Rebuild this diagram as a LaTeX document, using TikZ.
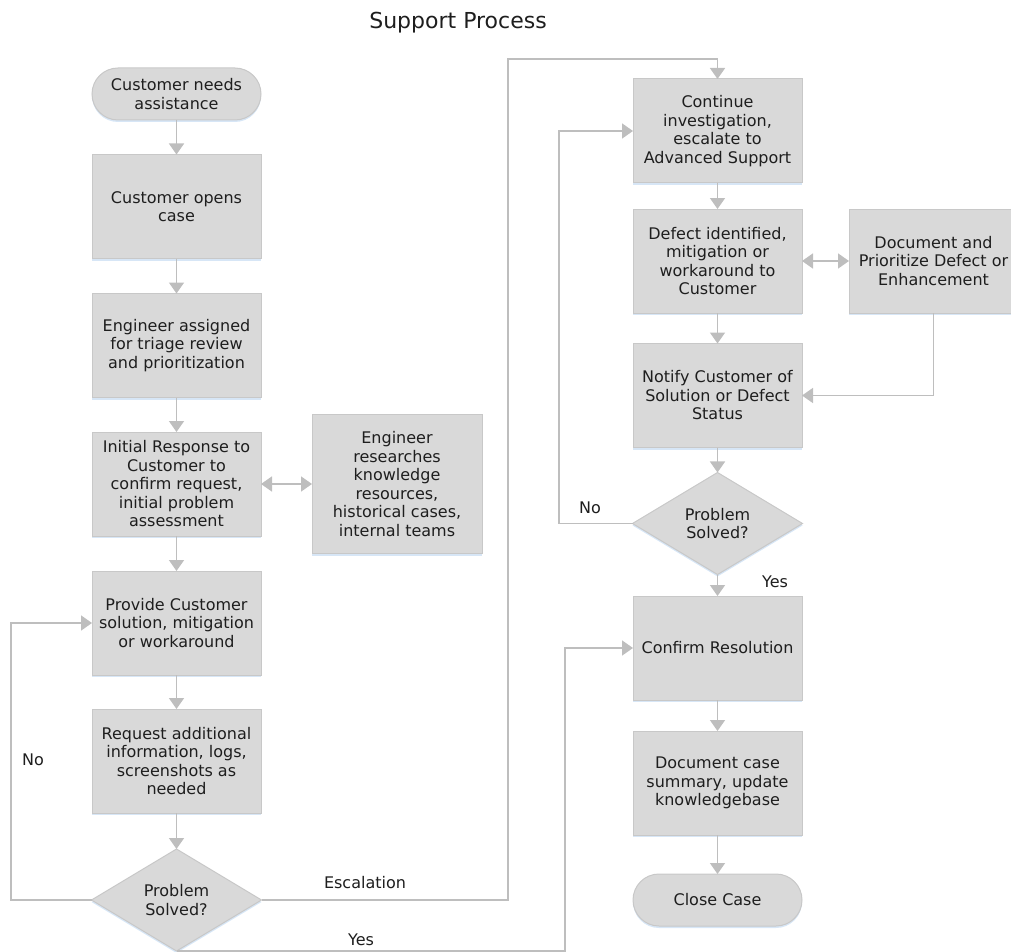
\documentclass[tikz,border=0pt]{standalone}
\usepackage{fontspec}
\setmainfont{DejaVu Sans}
\usetikzlibrary{shapes.geometric,arrows.meta,shadows}
\definecolor{boxfill}{RGB}{217,217,217}
\definecolor{boxline}{RGB}{200,200,200}
\definecolor{linkgray}{RGB}{190,190,190}
\definecolor{glow}{RGB}{205,224,244}
\definecolor{textgray}{RGB}{30,30,30}
\newcommand{\boxfont}{\fontsize{16}{18.5}\selectfont}
\newcommand{\titlefont}{\fontsize{22}{26}\selectfont}

\begin{document}
\begin{tikzpicture}
  [x=1pt,y=1pt,>={Triangle[width=15pt,length=11pt]},
   glowshadow/.style={drop shadow={shadow xshift=0pt,shadow yshift=-2pt,fill=glow,opacity=0.8}},
   process/.style={rectangle,draw=boxline,fill=boxfill,line width=1pt,align=center,
                   outer sep=0,minimum width=169pt,minimum height=104pt,inner sep=2pt,
                   font=\boxfont,text=textgray,glowshadow},
   terminal/.style={process,rounded corners=26pt,minimum height=52pt},
   decision/.style={diamond,draw=boxline,fill=boxfill,line width=1pt,align=center,
                    outer sep=0,inner sep=0,aspect=1.7,minimum width=170pt,minimum height=102pt,
                    font=\boxfont,text=textgray,glowshadow},
   arrowline/.style={draw=linkgray,line width=1.6pt},
   flowtext/.style={font=\boxfont,text=textgray,inner sep=0}]
  \useasboundingbox (0,0) rectangle (1011,-952);
  \node[font=\titlefont,text=textgray] (title) at (458,-23) {Support Process};
  % left column
  \node[terminal] (start) at (176.5,-94) {Customer needs\\assistance};
  \node[process] (opens) at (176.5,-206.5) {Customer opens\\case};
  \node[process] (assigned) at (176.5,-345.5) {Engineer assigned\\for triage review\\and prioritization};
  \node[process] (initial) at (176.5,-484) {Initial Response to\\Customer to\\confirm request,\\initial problem\\assessment};
  \node[process,minimum width=170pt,minimum height=139pt] (research) at (397,-484) {Engineer\\researches\\knowledge\\resources,\\historical cases,\\internal teams};
  \node[process] (provide) at (176.5,-623) {Provide Customer\\solution, mitigation\\or workaround};
  \node[process] (request) at (176.5,-761) {Request additional\\information, logs,\\screenshots as\\needed};
  \node[decision] (dec1) at (176.5,-900) {Problem\\Solved?};
  % right column
  \node[process] (cont) at (717.5,-131) {Continue\\investigation,\\escalate to\\Advanced Support};
  \node[process] (defect) at (717.5,-261) {Defect identified,\\mitigation or\\workaround to\\Customer};
  \node[process] (docdef) at (933.5,-261) {Document and\\Prioritize Defect or\\Enhancement};
  \node[process] (notify) at (717.5,-395.5) {Notify Customer of\\Solution or Defect\\Status};
  \node[decision] (dec2) at (717.5,-523.5) {Problem\\Solved?};
  \node[process] (confirm) at (717.5,-648) {Confirm Resolution};
  \node[process] (summary) at (717.5,-783) {Document case\\summary, update\\knowledgebase};
  \node[terminal] (close) at (717.5,-900) {Close Case};
  % bend points
  \coordinate (noleft) at (11,-900);
  \coordinate (esctop) at (508,-59);
  \coordinate (yesup) at (565,-648);
  \coordinate (noright) at (559,-131);
  % labels
  \node[flowtext] (noleftlabel) at (33,-760) {No};
  \node[flowtext] (esclabel) at (365,-883) {Escalation};
  \node[flowtext] (yesleftlabel) at (361,-940) {Yes};
  \node[flowtext] (norightlabel) at (590,-508) {No};
  \node[flowtext] (yesrightlabel) at (775,-582) {Yes};
  % connectors
  \draw[arrowline,->] (start) to (opens);
  \draw[arrowline,->] (opens) to (assigned);
  \draw[arrowline,->] (assigned) to (initial);
  \draw[arrowline,<->] (initial) to (research);
  \draw[arrowline,->] (initial) to (provide);
  \draw[arrowline,->] (provide) to (request);
  \draw[arrowline,->] (request) to (dec1);
  \draw[arrowline,->] (dec1.west) -- (noleft) |- (provide.west);
  \draw[arrowline,->] (dec1.east) -| (esctop) -| (cont.north);
  \draw[arrowline,->] (dec1.south) -| (yesup) -- (confirm.west);
  \draw[arrowline,->] (cont) to (defect);
  \draw[arrowline,<->] (defect) to (docdef);
  \draw[arrowline,->] (defect) to (notify);
  \draw[arrowline,->] (docdef.south) |- (notify.east);
  \draw[arrowline,->] (notify) to (dec2);
  \draw[arrowline,->] (dec2.west) -| (noright) -- (cont.west);
  \draw[arrowline,->] (dec2) to (confirm);
  \draw[arrowline,->] (confirm) to (summary);
  \draw[arrowline,->] (summary) to (close);
\end{tikzpicture}
\end{document}
